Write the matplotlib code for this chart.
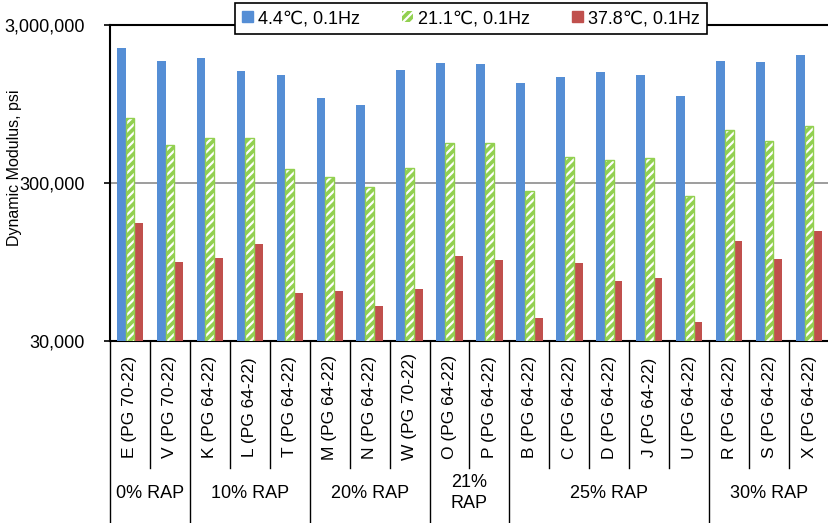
import matplotlib
matplotlib.use('Agg')
import matplotlib.pyplot as plt
import matplotlib.transforms as mtransforms
from matplotlib.ticker import FixedLocator, NullLocator
from matplotlib.patches import Patch
import numpy as np

plt.rcParams['font.family'] = ['Liberation Sans', 'DejaVu Sans']
plt.rcParams['hatch.linewidth'] = 1.6

# mixes and the RAP group they belong to
mixes = ['E (PG 70-22)', 'V (PG 70-22)', 'K (PG 64-22)', 'L (PG 64-22)', 'T (PG 64-22)',
         'M (PG 64-22)', 'N (PG 64-22)', 'W (PG 70-22)', 'O (PG 64-22)', 'P (PG 64-22)',
         'B (PG 64-22)', 'C (PG 64-22)', 'D (PG 64-22)', 'J (PG 64-22)', 'U (PG 64-22)',
         'R (PG 64-22)', 'S (PG 64-22)', 'X (PG 64-22)']
groups = ['0% RAP', '10% RAP', '20% RAP', '21%\nRAP', '25% RAP', '30% RAP']
group_sizes = [2, 3, 3, 2, 5, 3]

series_names = ['4.4\u2103, 0.1Hz', '21.1\u2103, 0.1Hz', '37.8\u2103, 0.1Hz']
e_4c = [2146000, 1783000, 1863000, 1542000, 1448000, 1040000, 939000, 1563000, 1716000,
        1698000, 1283000, 1406000, 1519000, 1441000, 1066000, 1776000, 1742000, 1947000]
e_21c = [774000, 522000, 576000, 576000, 368000, 326000, 282000, 375000, 537000,
         535000, 267000, 438000, 417000, 432000, 247000, 646000, 553000, 685000]
e_38c = [167000, 94500, 101000, 123000, 60700, 61900, 50000, 64000, 103000,
         98000, 42000, 94000, 72000, 75000, 39700, 129000, 99000, 150000]

blue = '#558ED5'
green = '#92D050'
red = '#C0504D'

W, H = 829, 523
fig = plt.figure(figsize=(W / 100, H / 100), dpi=100)
ax = fig.add_axes([110 / W, 1 - 341 / H, 719 / W, 316 / H])

x = np.arange(len(mixes))
w = 0.22
ax.bar(x - w, e_4c, w, color=blue, zorder=3)
# green fill with white stripes, then a green outline on top
ax.bar(x, e_21c, w, facecolor=green, edgecolor='white', hatch='////', linewidth=0, zorder=3)
ax.bar(x, e_21c, w, fill=False, edgecolor=green, linewidth=1, zorder=4)
ax.bar(x + w, e_38c, w, color=red, zorder=3)

ax.set_yscale('log')
ax.set_ylim(30000, 3000000)
ax.set_xlim(-0.5, len(mixes) - 0.5)
ax.yaxis.set_major_locator(FixedLocator([30000, 300000, 3000000]))
ax.yaxis.set_minor_locator(NullLocator())
ax.set_yticklabels(['30,000', '300,000', '3,000,000'], fontsize=13)
ax.tick_params(axis='y', direction='out', length=4, width=1.2, pad=14)
ax.set_xticks([])
ax.axhline(300000, color='#8c8c8c', lw=1.2, zorder=1)

for s in ['left', 'bottom', 'top']:
    ax.spines[s].set_linewidth(1.5)
    ax.spines[s].set_color('black')
ax.spines['right'].set_visible(False)

# category table under the axis
trans = mtransforms.blended_transform_factory(ax.transData, ax.transAxes)
cat_bottom = -(468 - 341) / 316
grp_bottom = -(523 - 341) / 316
bounds = np.cumsum([0] + group_sizes)
for i in range(len(mixes) + 1):
    yb = grp_bottom if i in bounds else cat_bottom
    ax.plot([i - 0.5, i - 0.5], [0, yb], color='black', lw=1, transform=trans, clip_on=False)
for i, m in enumerate(mixes):
    ax.text(i, -(407 - 341) / 316, m, rotation=90, ha='center', va='center',
            fontsize=12.5, transform=trans)
for g, a, b in zip(groups, bounds[:-1], bounds[1:]):
    ax.text((a + b - 1) / 2, -(493 - 341) / 316, g, ha='center', va='center',
            fontsize=13, transform=trans, linespacing=1.25)

fig.text(15 / W, 1 - 168 / H, 'Dynamic Modulus, psi', rotation=90, ha='center',
         va='center', fontsize=11.5)

handles = [Patch(facecolor=blue, edgecolor=blue),
           Patch(facecolor=green, edgecolor='white', hatch='////', linewidth=0),
           Patch(facecolor=red, edgecolor=red)]
leg = fig.legend(handles, series_names, loc='center', ncol=3,
                 bbox_to_anchor=(471 / W, 1 - 18.5 / H), fontsize=13, frameon=True,
                 fancybox=False, edgecolor='black', framealpha=1,
                 handlelength=0.6, handleheight=0.6, handletextpad=0.3,
                 columnspacing=2.3, borderpad=0.4, borderaxespad=0)
leg.get_frame().set_linewidth(1.2)

fig.savefig('out.png', dpi=100)
